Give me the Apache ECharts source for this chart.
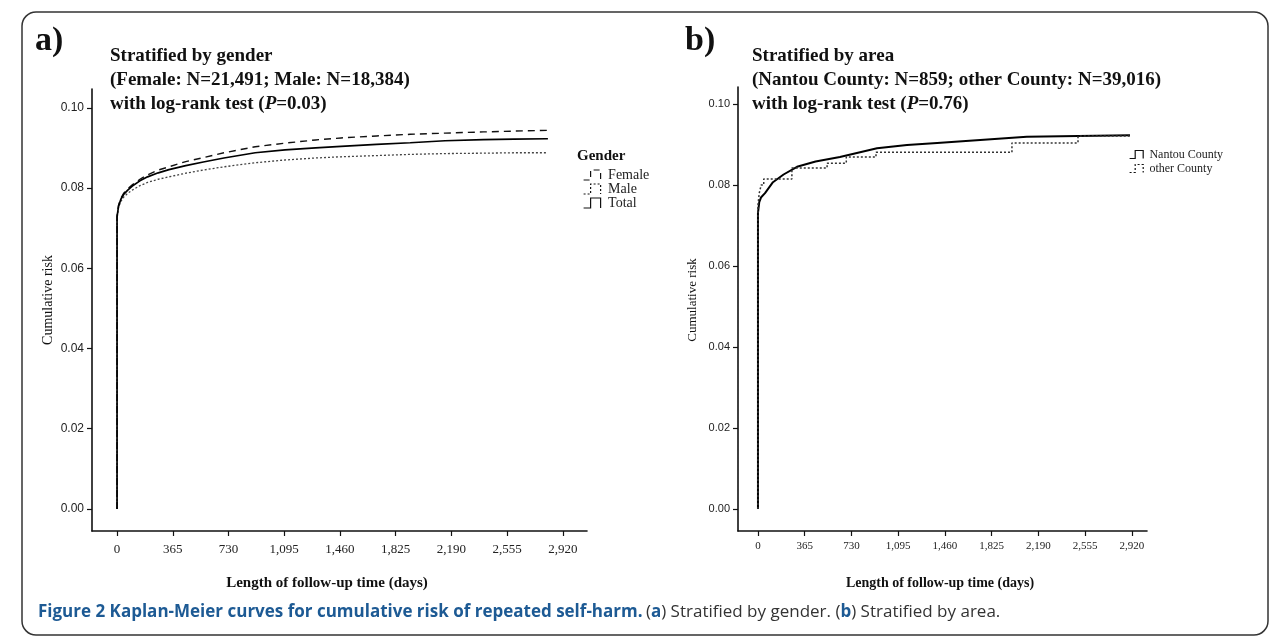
<!DOCTYPE html>
<html>
<head>
<meta charset="utf-8">
<script src="https://cdn.jsdelivr.net/npm/echarts@6/dist/echarts.min.js"></script>
<style>html,body{margin:0;padding:0;background:#fff}#c{width:1284px;height:643px}</style>
</head>
<body>
<div id="c"></div>
<script>
// ---- data ----
var xTicks = [0, 365, 730, 1095, 1460, 1825, 2190, 2555, 2920];
var yTicks = [0, 0.02, 0.04, 0.06, 0.08, 0.10];

// Panel a: stratified by gender (days, cumulative risk)
var genderDays = [0, 0, 10, 25, 45, 70, 100, 150, 200, 270, 340, 450, 565, 700, 905, 1100, 1300, 1467, 1700, 1920, 2148, 2400, 2600, 2822];
var femaleRisk = [0, 0.0730, 0.0757, 0.0775, 0.0788, 0.0798, 0.0808, 0.0822, 0.0833, 0.0845, 0.0853, 0.0866, 0.0876, 0.0888, 0.0903, 0.0912, 0.0920, 0.0925, 0.0930, 0.0934, 0.0937, 0.0940, 0.0942, 0.0944];
var maleRisk   = [0, 0.0725, 0.0752, 0.0767, 0.0778, 0.0787, 0.0795, 0.0806, 0.0814, 0.0822, 0.0828, 0.0837, 0.0845, 0.0853, 0.0863, 0.0870, 0.0875, 0.0878, 0.0881, 0.0884, 0.0886, 0.0887, 0.0888, 0.0888];
var totalRisk  = [0, 0.0728, 0.0755, 0.0772, 0.0785, 0.0795, 0.0805, 0.0818, 0.0828, 0.0838, 0.0846, 0.0856, 0.0865, 0.0875, 0.0888, 0.0895, 0.0900, 0.0904, 0.0909, 0.0913, 0.0918, 0.0921, 0.0922, 0.0923];

// Panel b: stratified by area
var nantouDays = [0, 0, 10, 25, 55, 117, 200, 305, 450, 640, 930, 1164, 1400, 1680, 2100, 2500, 2906];
var nantouRisk = [0, 0.0731, 0.0758, 0.0770, 0.0780, 0.0807, 0.0826, 0.0845, 0.0858, 0.0869, 0.0891, 0.0899, 0.0904, 0.0910, 0.0919, 0.0921, 0.0923];
var otherDays = [0, 0, 10, 25, 45, 265, 540, 690, 922, 1984, 2500, 2906];
var otherRisk = [0, 0.0750, 0.0780, 0.0800, 0.0815, 0.0842, 0.0854, 0.0869, 0.0881, 0.0904, 0.0921, 0.0921];

function pairs(xs, ys) { return xs.map(function (x, i) { return [x, ys[i]]; }); }
function fmtX(v) { return String(v).replace(/\B(?=(\d{3})+(?!\d))/g, ','); }

var serif = 'Liberation Serif';
var stepIcon = 'path://M0,10 L7,10 L7,0 L17,0 L17,10';

function xAxis(grid, min, max, fs, margin) {
  return {
    type: 'value', gridIndex: grid, min: min, max: max,
    axisLine: { show: true, onZero: false, lineStyle: { color: '#111', width: 1.6 } },
    axisTick: { show: true, length: 5, customValues: xTicks, lineStyle: { color: '#111', width: 1.2 } },
    axisLabel: { customValues: xTicks, formatter: fmtX, margin: margin, color: '#222', fontFamily: serif, fontSize: fs },
    splitLine: { show: false }
  };
}
function yAxis(grid, min, max, fs) {
  return {
    type: 'value', gridIndex: grid, min: min, max: max,
    axisLine: { show: true, onZero: false, lineStyle: { color: '#111', width: 1.6 } },
    axisTick: { show: true, length: 5, customValues: yTicks, lineStyle: { color: '#111', width: 1.2 } },
    axisLabel: { customValues: yTicks, formatter: function (v) { return v.toFixed(2); }, margin: 8, color: '#222', fontFamily: 'Liberation Sans', fontSize: fs },
    splitLine: { show: false }
  };
}
function line(name, xi, data, color, width, type, step) {
  return {
    name: name, type: 'line', xAxisIndex: xi, yAxisIndex: xi, data: data,
    showSymbol: false, symbol: 'none', step: step || false, silent: true,
    lineStyle: { color: color, width: width, type: type },
    itemStyle: { color: color }
  };
}
function legItem(name, type) {
  return { name: name, icon: stepIcon,
    itemStyle: { color: 'rgba(0,0,0,0)', borderColor: '#111', borderWidth: 1.2, borderType: type } };
}

var chart = echarts.init(document.getElementById('c'), null, { renderer: 'canvas' });
chart.setOption({
  animation: false,
  backgroundColor: '#fff',
  grid: [
    { left: 92, top: 89, right: 697, bottom: 112 },
    { left: 738, top: 87, right: 137, bottom: 112 }
  ],
  xAxis: [xAxis(0, -164, 3078, 13, 12), xAxis(1, -156, 3039, 11, 10)],
  yAxis: [yAxis(0, -0.0055, 0.1047, 12), yAxis(1, -0.0054, 0.1042, 11)],
  legend: [
    { orient: 'vertical', left: 578, top: 163, itemWidth: 22, itemHeight: 10, itemGap: 0,
      selectedMode: false, textStyle: { fontFamily: serif, fontSize: 14, color: '#222', lineHeight: 14 },
      data: [legItem('Female', [6, 4]), legItem('Male', [2, 2]), legItem('Total', 'solid')] },
    { orient: 'vertical', left: 1124, top: 143, itemWidth: 16, itemHeight: 8, itemGap: 1,
      selectedMode: false, textStyle: { fontFamily: serif, fontSize: 12, color: '#222', lineHeight: 13 },
      data: [legItem('Nantou County', 'solid'), legItem('other County', [2, 2])] }
  ],
  series: [
    line('Female', 0, pairs(genderDays, femaleRisk), '#111', 1.4, [7, 5]),
    line('Male', 0, pairs(genderDays, maleRisk), '#444', 1.3, [2, 2]),
    line('Total', 0, pairs(genderDays, totalRisk), '#000', 1.7, 'solid'),
    line('Nantou County', 1, pairs(nantouDays, nantouRisk), '#000', 2, 'solid'),
    line('other County', 1, pairs(otherDays, otherRisk), '#333', 1.5, [2, 2], 'end')
  ],
  graphic: [
    { type: 'rect', silent: true, shape: { x: 22, y: 12, width: 1246, height: 623, r: 14 },
      style: { fill: 'none', stroke: '#333', lineWidth: 1.5 } },
    { type: 'text', left: 35, top: 24, style: { text: 'a)', font: 'bold 34px "Liberation Serif"', fill: '#111' } },
    { type: 'text', left: 110, top: 44, style: { text: 'Stratified by gender\n(Female: N=21,491; Male: N=18,384)\n{n|with log-rank test (}{i|P}{n|=0.03)}',
      font: 'bold 19px "Liberation Serif"', fill: '#111', lineHeight: 24,
      rich: { n: { font: 'bold 19px "Liberation Serif"', fill: '#111', lineHeight: 24 }, i: { font: 'italic bold 19px "Liberation Serif"', fill: '#111', lineHeight: 24 } } } },
    { type: 'text', left: 685, top: 24, style: { text: 'b)', font: 'bold 34px "Liberation Serif"', fill: '#111' } },
    { type: 'text', left: 752, top: 44, style: { text: 'Stratified by area\n(Nantou County: N=859; other County: N=39,016)\n{n|with log-rank test (}{i|P}{n|=0.76)}',
      font: 'bold 19px "Liberation Serif"', fill: '#111', lineHeight: 24,
      rich: { n: { font: 'bold 19px "Liberation Serif"', fill: '#111', lineHeight: 24 }, i: { font: 'italic bold 19px "Liberation Serif"', fill: '#111', lineHeight: 24 } } } },
    { type: 'text', left: 577, top: 149, style: { text: 'Gender', font: 'bold 15px "Liberation Serif"', fill: '#111' } },
    { type: 'text', x: 48, y: 300, rotation: Math.PI / 2, style: { text: 'Cumulative risk', font: '14px "Liberation Serif"', fill: '#111', align: 'center', verticalAlign: 'middle' } },
    { type: 'text', x: 693, y: 300, rotation: Math.PI / 2, style: { text: 'Cumulative risk', font: '13px "Liberation Serif"', fill: '#111', align: 'center', verticalAlign: 'middle' } },
    { type: 'text', x: 327, y: 583, style: { text: 'Length of follow-up time (days)', font: 'bold 15px "Liberation Serif"', fill: '#111', align: 'center', verticalAlign: 'middle' } },
    { type: 'text', x: 940, y: 583, style: { text: 'Length of follow-up time (days)', font: 'bold 14px "Liberation Serif"', fill: '#111', align: 'center', verticalAlign: 'middle' } },
    { type: 'text', left: 38, top: 604, style: {
      text: '{b|Figure 2 Kaplan-Meier curves for cumulative risk of repeated self-harm.} {r|(}{k|a}{r|) Stratified by gender. (}{k|b}{r|) Stratified by area.}',
      rich: {
        b: { font: 'bold 17px "Open Sans"', fill: '#1d5a94' },
        r: { font: '17px "Open Sans"', fill: '#333' },
        k: { font: 'bold 17px "Open Sans"', fill: '#1d5a94' }
      } } }
  ]
});
</script>
</body>
</html>
